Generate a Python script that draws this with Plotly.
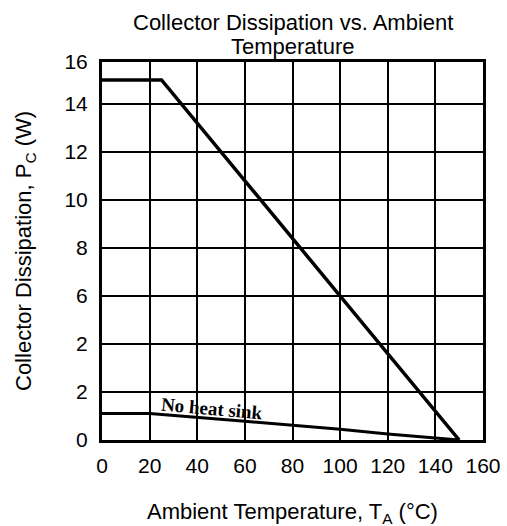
import plotly.graph_objects as go

# Data
temp_heatsink = [0, 25, 150]
pc_heatsink = [15.0, 15.0, 0.0]

temp_noheatsink = [0, 20, 60, 100, 120, 150]
pc_noheatsink = [1.1, 1.1, 0.78, 0.45, 0.25, 0.0]

x_ticks = [0, 20, 40, 60, 80, 100, 120, 140, 160]
y_tickvals = [0, 2, 4, 6, 8, 10, 12, 14, 15.75]
y_ticktext = ["0", "2", "2", "6", "8", "10", "12", "14", "16"]

title_lines = ["Collector Dissipation vs. Ambient", "Temperature"]

W, H = 507, 526
L, R, T, B = 102, 24, 62, 86
PW, PH = W - L - R, H - T - B


def py(pix):
    """pixel y (from top) -> paper y"""
    return (H - B - pix) / PH


fig = go.Figure()
fig.add_trace(go.Scatter(x=temp_heatsink, y=pc_heatsink, mode="lines",
                         line=dict(color="black", width=3.5), showlegend=False,
                         hoverinfo="skip"))
fig.add_trace(go.Scatter(x=temp_noheatsink, y=pc_noheatsink, mode="lines",
                         line=dict(color="black", width=3), showlegend=False,
                         hoverinfo="skip"))

fig.add_annotation(x=46, y=1.3, xref="x", yref="y", text="No heat sink",
                   showarrow=False, textangle=5,
                   font=dict(family="Liberation Serif", size=19, color="black",
                             weight="bold"))

# title (two lines, tight spacing as in the reference)
for txt, ypix in zip(title_lines, [23, 46]):
    fig.add_annotation(x=0.5, y=py(ypix), xref="paper", yref="paper",
                       text=txt, showarrow=False, xanchor="center",
                       yanchor="middle", font=dict(size=22, color="black"))

# axis titles
fig.add_annotation(x=0.5, y=py(513), xref="paper", yref="paper",
                   text="Ambient Temperature, T<sub>A</sub> (°C)", showarrow=False,
                   xanchor="center", yanchor="middle",
                   font=dict(size=22, color="black"))
fig.add_annotation(x=-(L - 25) / PW, y=0.5, xref="paper", yref="paper",
                   text="Collector Dissipation, P<sub>C</sub> (W)", showarrow=False,
                   textangle=-90, xanchor="center", yanchor="middle",
                   font=dict(size=22, color="black"))

fig.update_layout(
    width=W, height=H,
    margin=dict(l=L, r=R, t=T, b=B, autoexpand=False),
    paper_bgcolor="white", plot_bgcolor="white",
    font=dict(family="Liberation Sans, Arial", color="black"),
)
fig.update_xaxes(range=[0, 160], tickvals=x_ticks,
                 showgrid=True, gridcolor="black", gridwidth=2,
                 showline=True, linecolor="black", linewidth=3, mirror=True,
                 zeroline=False, ticks="", ticklabelstandoff=5,
                 tickfont=dict(size=21, color="black"))
fig.update_yaxes(range=[0, 15.75], tickvals=y_tickvals, ticktext=y_ticktext,
                 showgrid=True, gridcolor="black", gridwidth=2,
                 showline=True, linecolor="black", linewidth=3, mirror=True,
                 zeroline=False, ticks="", ticklabelstandoff=7,
                 tickfont=dict(size=21, color="black"))

fig.write_html("out.html")
